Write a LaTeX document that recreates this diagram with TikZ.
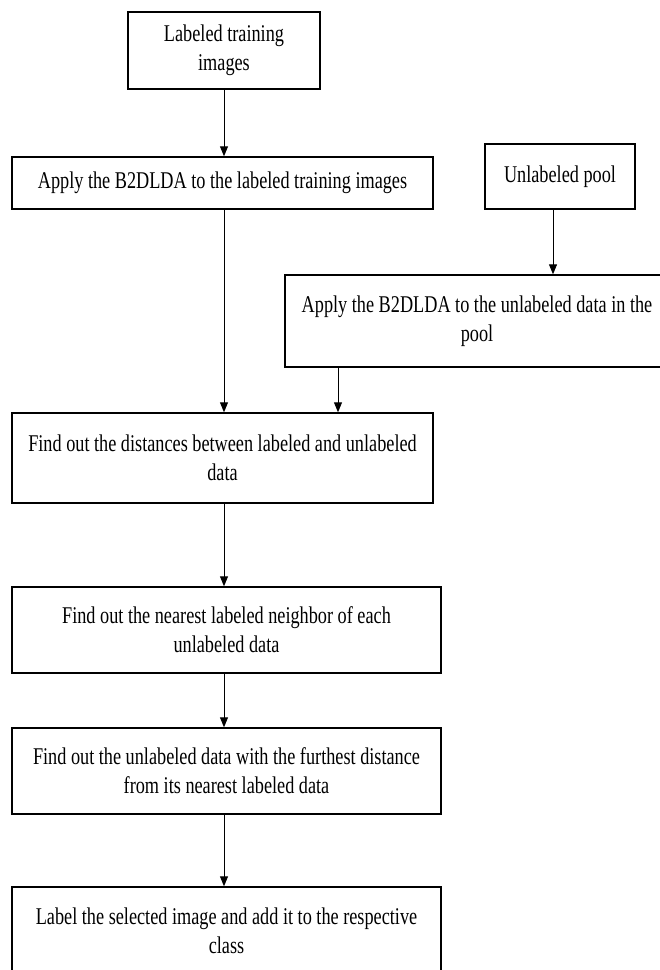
\documentclass[tikz,border=0pt]{standalone}
\usepackage{fontspec}
\setmainfont{Liberation Serif}[FakeStretch=0.76]
\usetikzlibrary{arrows.meta}

\begin{document}
\begin{tikzpicture}
	[x=1pt,y=-1pt,
	 box/.style={rectangle,draw=black,line width=1.4pt,align=center,inner sep=0pt,
	   font=\fontsize{24}{29}\selectfont},
	 flow/.style={-{Triangle[length=10pt,width=8pt]},line width=1pt}]
	\useasboundingbox (0,0) rectangle (660,970);
	\clip (0,0) rectangle (660,970);

	\node[box,minimum width=192pt,minimum height=77pt] (lti) at (224,50.5) {Labeled training\\images};
	\node[box,minimum width=421pt,minimum height=52pt] (app1) at (222.5,183) {Apply the B2DLDA to the labeled training images};
	\node[box,minimum width=150pt,minimum height=65pt] (pool) at (560,176.5) {Unlabeled pool};
	\node[box,minimum width=384pt,minimum height=92pt] (app2) at (477,321) {Apply the B2DLDA to the unlabeled data in the\\pool};
	\node[box,minimum width=421pt,minimum height=90pt] (dist) at (222.5,458) {Find out the distances between labeled and unlabeled\\data};
	\node[box,minimum width=429pt,minimum height=86pt] (near) at (226.5,630) {Find out the nearest labeled neighbor of each\\unlabeled data};
	\node[box,minimum width=429pt,minimum height=86pt] (furth) at (226.5,771) {Find out the unlabeled data with the furthest distance\\from its nearest labeled data};
	\node[box,minimum width=429pt,minimum height=88pt] (lab) at (226.5,931) {Label the selected image and add it to the respective\\class};

	% left column, all on the line under lti
	\foreach \from/\to in {lti/app1,app1/dist,dist/near,near/furth,furth/lab}
	\draw[flow] (\from.south -| lti.south) -- (\to.north -| lti.south);

	\coordinate (j1) at (553,209);
	\coordinate (j2) at (338,367);
	\draw[flow] (j1) -- (j1 |- app2.north);
	\draw[flow] (j2) -- (j2 |- dist.north);
\end{tikzpicture}
\end{document}
